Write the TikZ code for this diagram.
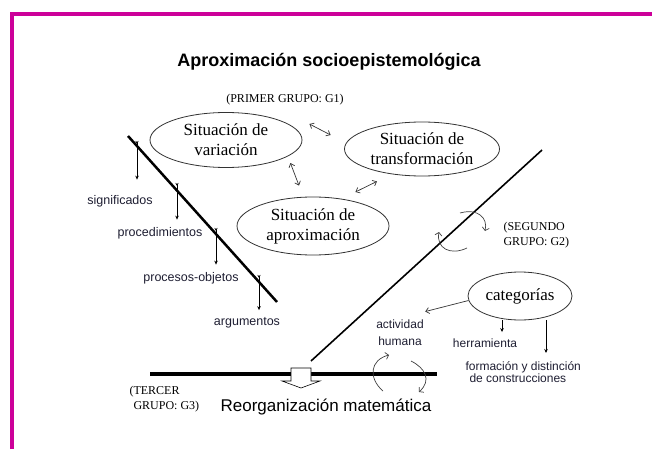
\documentclass[tikz,border=0pt]{standalone}
\usepackage{fontspec}
\setmainfont{Liberation Serif}
\setsansfont{Liberation Sans}
\usetikzlibrary{arrows.meta,shapes.geometric}
\definecolor{marco}{RGB}{204,0,153}
\definecolor{tinta}{RGB}{30,30,50}
\begin{document}
\begin{tikzpicture}[x=1pt,y=-1pt,
    sit/.style={ellipse,draw,line width=0.8pt,draw=black!80,inner sep=0pt,align=center,
      font=\fontsize{17}{20}\selectfont},
    etq/.style={font=\sffamily\fontsize{12.5}{16}\selectfont,text=tinta,align=center},
    grupo/.style={align=left,font=\fontsize{12}{15.5}\selectfont},
    doble/.style={{Straight Barb[length=3.5pt,width=6pt]}-{Straight Barb[length=3.5pt,width=6pt]},line width=0.7pt,black!80},
    baja/.style={{Stealth[length=3pt,width=3pt,reversed]}-{Stealth[length=4pt,width=3.5pt]},line width=0.7pt},
    giro/.style={-{Straight Barb[length=3pt,width=7pt]},line width=0.7pt,black!75}]
  \useasboundingbox (0,0) rectangle (652,449);
  \draw[marco,line width=4pt] (12,449) -- (12,14) -- (652,14);
  \draw
    (329,62) node (tit){\sffamily\bfseries\fontsize{18}{20}\selectfont Aproximación socioepistemológica}
    (285,100) node[grupo] (g1){(PRIMER GRUPO: G1)}
    (226,140) node[sit,minimum width=152pt,minimum height=55pt] (var){Situación de\\variación}
    (422,149) node[sit,minimum width=155pt,minimum height=54pt] (trans){Situación de\\transformación}
    (313,226) node[sit,minimum width=152pt,minimum height=58pt] (aprox){Situación de\\aproximación}
    (520,296) node[sit,minimum width=104pt,minimum height=48pt] (cat){categorías}
    (120,201) node[etq] (sig){significados}
    (160,233) node[etq] (proc){procedimientos}
    (191,278) node[etq] (pob){procesos-objetos}
    (247,323) node[etq] (arg){argumentos}
    (400,333) node[etq,font=\sffamily\fontsize{12}{17}\selectfont] (act){actividad\\humana}
    (485,343) node[etq,font=\sffamily\fontsize{12}{13}\selectfont] (herr){herramienta}
    (462,372) node[etq,anchor=west,align=left,font=\sffamily\fontsize{12}{12}\selectfont] (form){formación y distinción\\\hspace*{4pt}de construcciones}
    (500,235) node[grupo,anchor=west] (g2){(SEGUNDO\\GRUPO: G2)}
    (126,399) node[grupo,anchor=west] (g3){(TERCER\\\hspace*{4pt}GRUPO: G3)}
    (326,407) node (reorg){\sffamily\fontsize{17}{20}\selectfont Reorganización matemática};
  \draw[line width=2.5pt] (128,136) -- (277,302);
  \draw[line width=1.6pt] (311,361) -- (542,150);
  \draw[line width=3.5pt] (150,374) -- (437,374);
  \draw[line width=0.6pt,fill=white] (291,368) -- (311,368) -- (311,381) -- (320,381)
    -- (301,388) -- (282,381) -- (291,381) -- cycle;
  \coordinate (t1) at (137,141);
  \coordinate (t2) at (177,183);
  \coordinate (t3) at (216,228);
  \coordinate (t4) at (259,275);
  \begin{scope}[baja]
    \draw[shorten >=12pt] (t1) to (t1 |- sig.north);
    \draw[shorten >=4pt] (t2) to (t2 |- proc.north);
    \draw[shorten >=4pt] (t3) to (t3 |- pob.north);
    \draw[shorten >=4pt] (t4) to (t4 |- arg.north);
  \end{scope}
  \begin{scope}[-{Stealth[length=4pt,width=3.5pt]},line width=0.7pt]
    \draw[shorten >=3pt] ([xshift=-18pt]cat.south) to ([xshift=-18pt]cat.south |- herr.north);
    \draw[shorten >=5pt] ([xshift=26pt]cat.south) to ([xshift=26pt]cat.south |- form.north);
  \end{scope}
  \begin{scope}[doble]
    \draw ([shift={(7,-16)}]var.east) to ([shift={(-13.5,-14)}]trans.west);
    \draw ([shift={(-12,23)}]var.east) to ([shift={(-14,-11)}]aprox.north);
    \draw ([shift={(-34,-34)}]aprox.east) to ([shift={(-45,5)}]trans.south);
  \end{scope}
  \draw[-{Straight Barb[length=3.5pt,width=6pt]},line width=0.7pt,black!80] (cat.185) to ([shift={(-2,-5)}]act.north east);
  \begin{scope}[giro]
    \draw (460,213) .. controls (478,208) and (488,218) .. (485,231);
    \draw (467,248) .. controls (450,256) and (436,248) .. (439,232);
    \draw (383,391) .. controls (368,378) and (370,360) .. (389,355);
    \draw (411,361) .. controls (425,368) and (432,380) .. (419,392);
  \end{scope}
\end{tikzpicture}
\end{document}
